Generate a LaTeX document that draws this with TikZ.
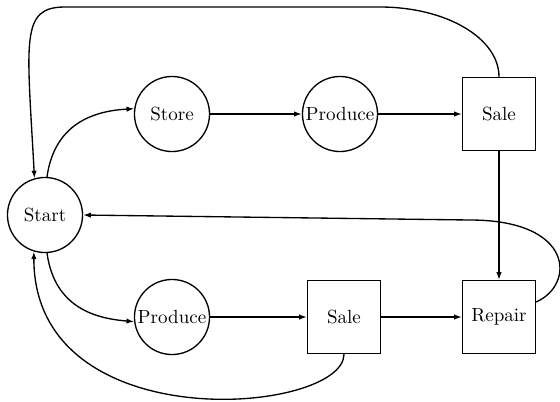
\documentclass[tikz,border=0pt]{standalone}
\usetikzlibrary{arrows.meta}
\begin{document}
\begin{tikzpicture}[x=0.525pt, y=-0.525pt,
  every path/.style={line width=0.7pt},
  state/.style={circle, draw, minimum size=39.4pt, inner sep=0pt},
  act/.style={rectangle, draw, minimum size=38.3pt, inner sep=0pt},
  flow/.style={-{Latex[length=4pt,width=2.8pt]}}]
\useasboundingbox (0,0) rectangle (560,401);

% nodes
\node[state] (start)  at (45,215)  {Start};
\node[state] (store)  at (172,114) {Store};
\node[state] (prodA)  at (340,114) {Produce};
\node[act]   (saleA)  at (499,114) {Sale};
\node[state] (prodB)  at (172,317) {Produce};
\node[act]   (saleB)  at (344,317) {Sale};
\node[act]   (repair) at (499,317) {Repair};

% straight flows
\draw[flow] (store.east) -- (prodA.west);
\draw[flow] (prodA.east) -- (saleA.west);
\draw[flow] (saleA.south) -- (repair.north);
\draw[flow] (prodB.east) -- (saleB.west);
\draw[flow] (saleB.east) -- (repair.west);

% branches out of the start state
\draw[flow] (start.87) .. controls +(8,-57) and +(-35,2) .. (store.172);
\draw[flow] (start.273) .. controls +(8,57) and +(-35,-3) .. (prodB.187);

% loops back to the start state
\draw[flow] (saleA.north) .. controls (499,38) and (446,7) .. (380,7)
  -- (65,7) .. controls (20,7) and (27,40) .. (start.106);
\draw[flow] (repair.22) .. controls (575,285) and (575,220) .. (470,220)
  -- (start.east);
\draw[flow] (saleB.south) .. controls +(0,60) and +(0,190) .. (start.253);
\end{tikzpicture}
\end{document}
